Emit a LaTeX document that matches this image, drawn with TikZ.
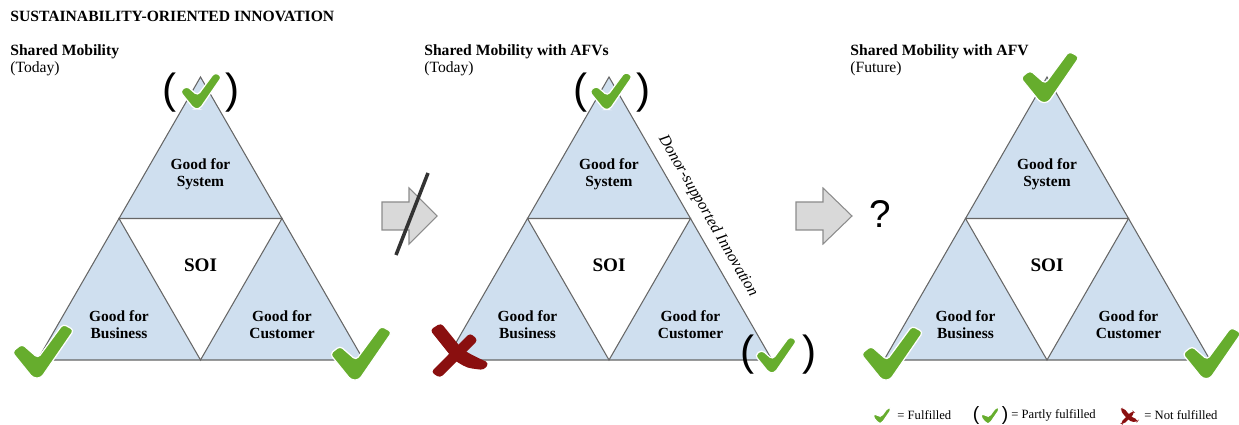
\documentclass[tikz,border=0pt]{standalone}
\usepackage{fontspec}
\setmainfont{Liberation Serif}
\newfontfamily\sansf{Liberation Sans}
\usepackage{tikz}

\definecolor{triblue}{HTML}{CFDFEF}
\definecolor{okgreen}{HTML}{66AD2D}
\definecolor{nored}{HTML}{8A0F0F}
\definecolor{arrgray}{HTML}{D9D9D9}

\tikzset{
  part/.style={fill=triblue, draw=black!60, line width=0.6pt},
  hole/.style={fill=white, draw=black!60, line width=0.6pt},
  lbl/.style={font=\bfseries\fontsize{8.8}{9.8}\selectfont, align=center, inner sep=0pt},
  soi/.style={font=\bfseries\fontsize{10.9}{12}\selectfont, inner sep=0pt},
  head/.style={font=\bfseries\fontsize{8.9}{9.8}\selectfont, anchor=base west, inner sep=0pt},
  when/.style={font=\fontsize{8.9}{9.8}\selectfont, anchor=base west, inner sep=0pt},
  paren/.style={font=\sansf\fontsize{24}{24}\selectfont, inner sep=0pt},
  smallparen/.style={font=\sansf\fontsize{11}{11}\selectfont, inner sep=0pt},
  legend/.style={font=\fontsize{7.2}{8}\selectfont, anchor=west, inner sep=0pt},
  blockarrow/.style={fill=arrgray, draw=black!45, line width=0.6pt},
  pics/chk/.style={code={
    \filldraw[fill=okgreen, draw=white, line width=0.7pt, rounded corners=2pt]
      (-31,2) -- (-21,-6) -- (-5,8) -- (20,-26) -- (31,-20) -- (-2,28) -- (-10,28) -- cycle;
  }},
  pics/crs/.style={code={
    \fill[nored, rounded corners=2pt]
      (-29,-17) -- (-18,-24) -- (3,2) .. controls (13,8) .. (30,16) -- (25,23)
      .. controls (8,21) .. (-5,13) -- cycle;
    \fill[nored, rounded corners=2pt]
      (11,-14) -- (19,-7) -- (-19,31) -- (-28,25) -- cycle;
  }}
}

\begin{document}
\begin{tikzpicture}[x=0.02cm, y=-0.02cm]
\useasboundingbox (0,0) rectangle (1239,425);

% headings
\node[head] (title) at (10,22) {SUSTAINABILITY-ORIENTED INNOVATION};
\node[head] (name1) at (10,56) {Shared Mobility};
\node[when] (when1) at (10,73) {(Today)};
\node[head] (name2) at (424,56) {Shared Mobility with AFVs};
\node[when] (when2) at (424,73) {(Today)};
\node[head] (name3) at (850,56) {Shared Mobility with AFV};
\node[when] (when3) at (850,73) {(Future)};

% the three triangles
\foreach \c/\n in {200.5/1, 609/2, 1047/3} {
  \coordinate (top\n) at (\c,77);
  \coordinate (lm\n) at (\c-81.5,218.5);
  \coordinate (rm\n) at (\c+81.5,218.5);
  \coordinate (bl\n) at (\c-163,360);
  \coordinate (bm\n) at (\c,360);
  \coordinate (br\n) at (\c+163,360);
  \filldraw[part] (top\n) -- (bl\n) -- (br\n) -- cycle;
  \filldraw[hole] (lm\n) -- (rm\n) -- (bm\n) -- cycle;
  \node[lbl] (sys\n) at (\c,174) {Good for\\System};
  \node[soi] (soi\n) at (\c,265) {SOI};
  \node[lbl] (bus\n) at (\c-81.5,325) {Good for\\Business};
  \node[lbl] (cus\n) at (\c+81.5,325) {Good for\\Customer};
}

\path (top2) -- (br2) node[pos=0.52, sloped, above=5pt, inner sep=0pt,
  font=\itshape\fontsize{9.1}{10}\selectfont] (donor) {Donor-supported Innovation};

% arrows between the stages
\draw[blockarrow, shift={(382,216)}] (0,-14) -- (27,-14) -- (27,-28) -- (55,0)
  -- (27,28) -- (27,14) -- (0,14) -- cycle;
\draw[black!80, line width=2pt] (396,255) -- (428,173);
\draw[blockarrow, shift={(796,216)}] (0,-14) -- (27,-14) -- (27,-28) -- (56,0)
  -- (27,28) -- (27,14) -- (0,14) -- cycle;
\node[font=\sansf\fontsize{22}{22}\selectfont, inner sep=0pt] (ask) at (880,214) {?};

% marks on the corners
\node[paren] (lp1) at (170,93) {(};
\node[paren] (rp1) at (233,93) {)};
\pic[scale=0.68] at (201,90) {chk};
\pic at (43,350) {chk};
\pic at (361,352) {chk};

\node[paren] (lp2) at (581,93) {(};
\node[paren] (rp2) at (644,93) {)};
\pic[scale=0.7] at (611,90) {chk};
\pic at (459,347) {crs};
\node[paren] (lp3) at (748,355) {(};
\node[paren] (rp3) at (810,355) {)};
\pic[scale=0.68] at (776,354) {chk};

\pic[scale=0.95] at (1050,76) {chk};
\pic at (892,352) {chk};
\pic[scale=0.95] at (1212,352) {chk};

% legend
\pic[scale=0.32] at (882,415) {chk};
\node[legend] (leg1) at (897,415) {= Fulfilled};
\node[smallparen] (lp4) at (976,415) {(};
\node[smallparen] (rp4) at (1005,415) {)};
\pic[scale=0.33] at (990,415) {chk};
\node[legend] (leg2) at (1011,415) {= Partly fulfilled};
\pic[scale=0.32] at (1129,415) {crs};
\node[legend] (leg3) at (1144,415) {= Not fulfilled};
\end{tikzpicture}
\end{document}
